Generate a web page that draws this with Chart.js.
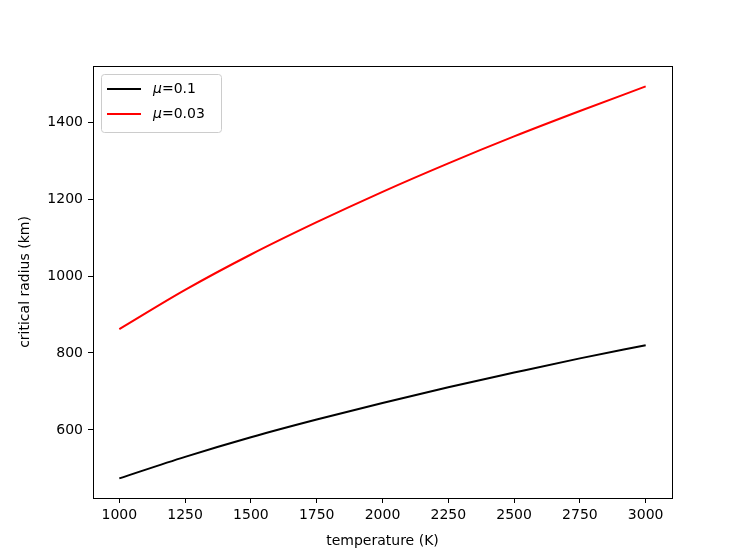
<!DOCTYPE html>
<html>
<head>
<meta charset="utf-8">
<script src="https://cdn.jsdelivr.net/npm/chart.js@4/dist/chart.umd.min.js"></script>
<style>
  html, body { margin: 0; padding: 0; background: #fff; }
  #wrap { width: 747px; height: 560px; }
</style>
</head>
<body>
<div id="wrap"><canvas id="chart" width="747" height="560"></canvas></div>
<script>
// temperature (K) samples
const temperatures = [1000, 1250, 1500, 1750, 2000, 2250, 2500, 2750, 3000];
// critical radius (km) for each mu
const radiusMu01 = [474, 530, 581, 627, 670, 711, 749, 786, 820];
const radiusMu003 = [862, 964, 1056, 1140, 1219, 1293, 1363, 1429, 1493];
const seriesLabels = ['0.1', '0.03'];
const xTicks = [1000, 1250, 1500, 1750, 2000, 2250, 2500, 2750, 3000];
const yTicks = [600, 800, 1000, 1200, 1400];

const FONT = 'DejaVu Sans';

// frame around the plot + matplotlib-like legend in the upper left
const framePlugin = {
    id: 'frame',
    afterDraw(chart) {
        const { ctx, chartArea: a } = chart;
        ctx.save();
        ctx.strokeStyle = '#000';
        ctx.lineWidth = 1;
        ctx.strokeRect(Math.round(a.left) + 0.5, Math.round(a.top) + 0.5,
            Math.round(a.right - a.left), Math.round(a.bottom - a.top));

        // legend box
        const bx = a.left + 8, by = a.top + 8, bw = 120, bh = 58;
        ctx.fillStyle = 'rgba(255,255,255,0.8)';
        ctx.strokeStyle = '#cccccc';
        ctx.beginPath();
        ctx.roundRect(bx + 0.5, by + 0.5, bw, bh, 3);
        ctx.fill();
        ctx.stroke();

        chart.data.datasets.forEach((ds, i) => {
            const y = by + 15 + i * 25;
            ctx.strokeStyle = ds.borderColor;
            ctx.lineWidth = 2;
            ctx.beginPath();
            ctx.moveTo(bx + 6, y);
            ctx.lineTo(bx + 40, y);
            ctx.stroke();

            ctx.fillStyle = '#000';
            ctx.textBaseline = 'middle';
            ctx.font = 'oblique 14px ' + FONT;
            ctx.fillText('\u03bc', bx + 52, y);
            const w = ctx.measureText('\u03bc').width;
            ctx.font = '14px ' + FONT;
            ctx.fillText('=' + seriesLabels[i], bx + 52 + w, y);
        });
        ctx.restore();
    }
};

new Chart(document.getElementById('chart'), {
    type: 'line',
    data: {
        datasets: [
            {
                label: '\u03bc=' + seriesLabels[0],
                data: temperatures.map((t, i) => ({ x: t, y: radiusMu01[i] })),
                borderColor: '#000000',
                borderWidth: 2,
                pointRadius: 0,
                cubicInterpolationMode: 'monotone'
            },
            {
                label: '\u03bc=' + seriesLabels[1],
                data: temperatures.map((t, i) => ({ x: t, y: radiusMu003[i] })),
                borderColor: '#ff0000',
                borderWidth: 2,
                pointRadius: 0,
                cubicInterpolationMode: 'monotone'
            }
        ]
    },
    options: {
        responsive: false,
        animation: false,
        layout: { padding: { top: 66, right: 75, left: 0, bottom: 0 } },
        plugins: {
            legend: { display: false },
            tooltip: { enabled: false }
        },
        scales: {
            x: {
                type: 'linear',
                min: 900,
                max: 3100,
                afterBuildTicks: (s) => { s.ticks = xTicks.map(v => ({ value: v })); },
                afterFit: (s) => { s.height = 62; },
                grid: { drawOnChartArea: false, drawTicks: true, tickLength: 5, color: '#000' },
                border: { display: false },
                ticks: {
                    color: '#000',
                    font: { family: FONT, size: 14 },
                    padding: 4,
                    maxRotation: 0,
                    callback: (v) => String(v)
                },
                title: {
                    display: true,
                    text: 'temperature (K)',
                    color: '#000',
                    font: { family: FONT, size: 14 },
                    padding: { top: 2, bottom: 10 }
                }
            },
            y: {
                type: 'linear',
                min: 423,
                max: 1546,
                afterBuildTicks: (s) => { s.ticks = yTicks.map(v => ({ value: v })); },
                afterFit: (s) => { s.width = 93; },
                grid: { drawOnChartArea: false, drawTicks: true, tickLength: 5, color: '#000' },
                border: { display: false },
                ticks: {
                    color: '#000',
                    font: { family: FONT, size: 14 },
                    padding: 5,
                    callback: (v) => String(v)
                },
                title: {
                    display: true,
                    text: 'critical radius (km)',
                    color: '#000',
                    font: { family: FONT, size: 14 },
                    padding: { top: 17, bottom: 2 }
                }
            }
        }
    },
    plugins: [framePlugin]
});
</script>
</body>
</html>
